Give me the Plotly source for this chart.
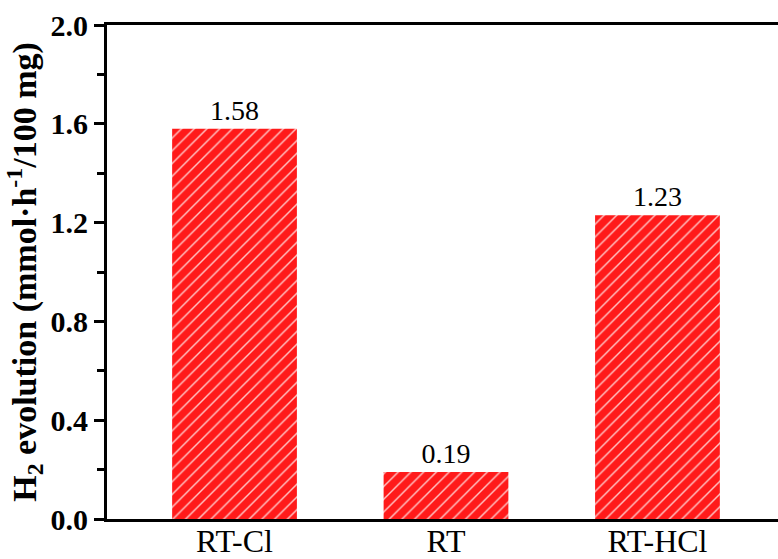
import plotly.graph_objects as go

categories = ["RT-Cl", "RT", "RT-HCl"]
h2_values = [1.58, 0.19, 1.23]
value_labels = ["1.58", "0.19", "1.23"]
y_ticks = [0.0, 0.4, 0.8, 1.2, 1.6, 2.0]
y_tick_text = ["0.0", "0.4", "0.8", "1.2", "1.6", "2.0"]

font_family = "Liberation Serif, Times New Roman, serif"

fig = go.Figure(
    go.Bar(
        x=list(range(len(categories))),
        y=h2_values,
        width=0.59,
        text=value_labels,
        textposition="outside",
        cliponaxis=False,
        textfont=dict(family=font_family, size=28, color="black"),
        marker=dict(
            color="#ff1a1a",
            line=dict(width=0),
            pattern=dict(shape="/", fgcolor="rgba(255,255,255,0.75)", bgcolor="#ff1a1a",
                         size=9, solidity=0.16, fillmode="replace"),
        ),
    )
)

fig.update_layout(
    width=778,
    height=559,
    margin=dict(l=107, r=0, t=25, b=40),
    plot_bgcolor="white",
    paper_bgcolor="white",
    showlegend=False,
)

fig.update_xaxes(
    range=[-0.603, 2.57],
    tickmode="array",
    tickvals=list(range(len(categories))),
    ticktext=categories,
    tickfont=dict(family=font_family, size=32, color="black"),
    showline=True,
    linecolor="black",
    linewidth=3,
    mirror=True,
    ticks="",
    ticklabelstandoff=-8,
    showgrid=False,
    zeroline=False,
    automargin=False,
)

fig.update_yaxes(
    range=[0, 2.0],
    tickmode="array",
    tickvals=y_ticks,
    ticktext=["<b>%s</b>" % t for t in y_tick_text],
    tickfont=dict(family=font_family, size=30, color="black"),
    ticks="outside",
    ticklen=10,
    tickwidth=3,
    tickcolor="black",
    minor=dict(ticks="outside", ticklen=7, tickwidth=3, tickcolor="black", dtick=0.2, tick0=0),
    showline=True,
    linecolor="black",
    linewidth=3,
    mirror=False,
    showgrid=False,
    zeroline=False,
    automargin=False,
    title=dict(
        text="<b>H<sub>2</sub> evolution (mmol·h<sup>-1</sup>/100 mg)</b>",
        font=dict(family=font_family, size=34, color="black"),
        standoff=4,
    ),
)

fig.write_html("out.html")
